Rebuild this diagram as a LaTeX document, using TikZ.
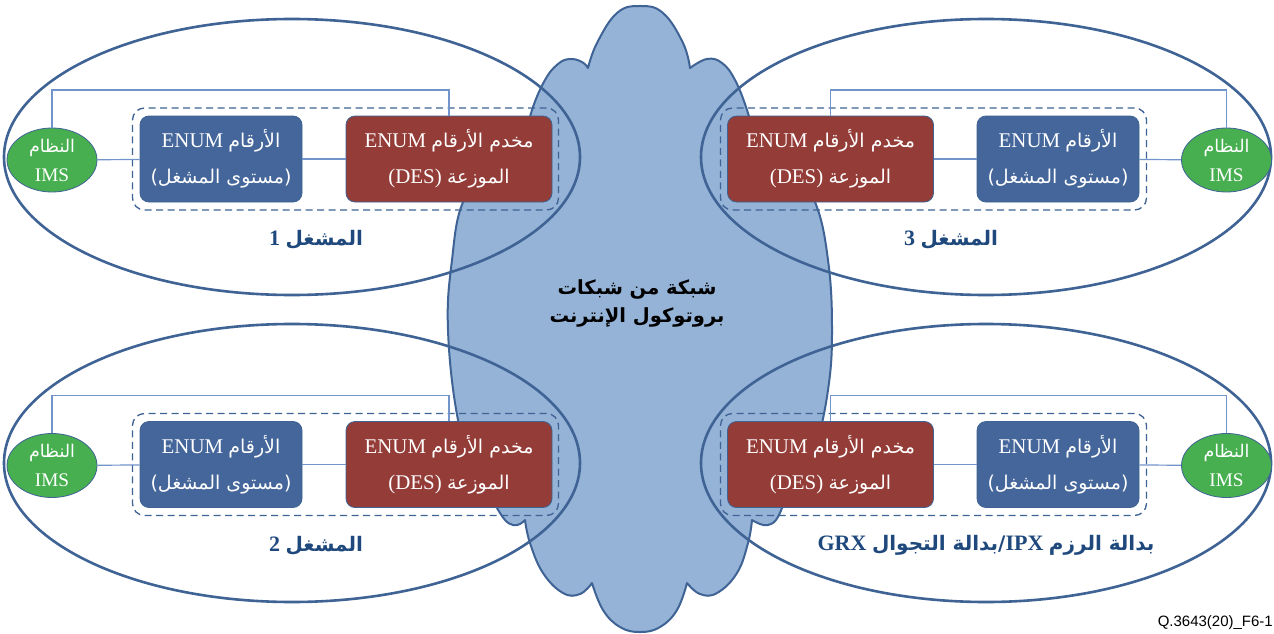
\documentclass[tikz,border=0pt]{standalone}
\usepackage{fontspec}
\setmainfont[Scale=1.1]{Liberation Serif}
\newfontfamily\arabicfont[Script=Arabic]{DejaVu Sans}
\newfontfamily\footfont{Liberation Sans}
\TeXXeTstate=1
\newcommand{\AR}[1]{{\arabicfont #1}}
\usetikzlibrary{shapes.geometric}

\definecolor{edgeblue}{HTML}{3E6394}
\definecolor{cloudfill}{HTML}{95B3D7}
\definecolor{boxblue}{HTML}{44669A}
\definecolor{boxred}{HTML}{943C37}
\definecolor{imsgreen}{HTML}{47AF4F}
\definecolor{linkblue}{HTML}{7195CB}
\definecolor{labelblue}{HTML}{1F497D}

\tikzset{
  boxbase/.style={draw=edgeblue, line width=0.8pt, rounded corners=9pt, text=white,
    align=center, inner sep=0pt, minimum height=86pt, font=\fontsize{19}{36}\selectfont},
  enumbox/.style={boxbase, fill=boxblue, minimum width=162pt},
  desbox/.style={boxbase, fill=boxred, minimum width=206pt},
  imsnode/.style={ellipse, draw=edgeblue, line width=0.8pt, fill=imsgreen, text=white,
    minimum width=90pt, minimum height=64pt, inner sep=0pt, align=center,
    font=\fontsize{17.5}{29}\selectfont},
  group/.style={draw=edgeblue, dash pattern=on 7pt off 4.5pt, line width=1.3pt,
    rounded corners=12pt, minimum width=426pt, minimum height=102pt, inner sep=0pt},
  opdomain/.style={draw=edgeblue, line width=2.6pt},
  link/.style={draw=linkblue, line width=1.2pt},
  oplabel/.style={text=labelblue, inner sep=0pt, font=\bfseries\fontsize{20}{24}\selectfont},
  cloudtext/.style={text=black, align=center, inner sep=0pt, font=\bfseries\fontsize{19.5}{28}\selectfont}
}

\begin{document}
\begin{tikzpicture}[x=1pt, y=-1pt]
\useasboundingbox (0,0) rectangle (1274,634);
\fill[white] (0,0) rectangle (1274,634);

% the IP network cloud in the middle
\filldraw[fill=cloudfill, draw=edgeblue, line width=2pt, line join=round]
  plot[smooth, tension=0.7] coordinates {(588,68) (597,43) (617,13) (640,6) (663,13) (683,43) (690,68)}
  -- plot[smooth, tension=0.7] coordinates {(690,68) (707,59) (722,63) (735,80) (747,110) (755,140)}
  -- plot[smooth, tension=0.7] coordinates {(755,140) (790,165) (815,202) (828,260) (832,330) (828,390) (815,450) (800,485) (782,508)}
  -- plot[smooth, tension=0.7] coordinates {(782,508) (776,520) (768,525) (760,524) (752,520)}
  -- plot[smooth, tension=0.7] coordinates {(752,520) (748,543) (737,573) (717,593) (700,594) (687,583)}
  -- plot[smooth, tension=0.7] coordinates {(687,583) (677,610) (660,627) (640,632) (620,627) (603,610) (592,583)}
  -- plot[smooth, tension=0.7] coordinates {(592,583) (580,594) (563,593) (543,573) (530,543) (525,520)}
  -- plot[smooth, tension=0.7] coordinates {(525,520) (520,524) (513,525) (505,520) (497,508)}
  -- plot[smooth, tension=0.7] coordinates {(497,508) (475,470) (458,420) (448,330) (452,260) (463,202) (490,165) (525,140)}
  -- plot[smooth, tension=0.7] coordinates {(525,140) (532,110) (545,80) (558,64) (570,59) (582,62) (588,68)}
  -- cycle;

% operator domains
\draw[opdomain] (292,157) ellipse [x radius=288, y radius=138];
\draw[opdomain] (986,157) ellipse [x radius=285, y radius=138];
\draw[opdomain] (292,463) ellipse [x radius=288, y radius=139];
\draw[opdomain] (986,463) ellipse [x radius=285, y radius=139];

\node[cloudtext] (net) at (637,303)
  {\beginR\AR{شبكة من شبكات}\endR\\\beginR\AR{بروتوكول الإنترنت}\endR};

% ---------- operator 1 (top left) ----------
\node[group] (grp1) at (345.5,159) {};
\node[imsnode] (ims1) at (52,160) {\beginR\AR{النظام}\endR\\IMS};
\node[enumbox] (enum1) at (221,159) {\beginR\AR{الأرقام} ENUM\endR\\\beginR\AR{(مستوى المشغل)}\endR};
\node[desbox] (des1) at (449,159) {\beginR\AR{مخدم الأرقام} ENUM\endR\\\beginR\AR{الموزعة} (DES)\endR};
\coordinate (top1) at (0,90);
\node[oplabel] (lab1) at (316,240) {\beginR\AR{المشغل} 1\endR};

% ---------- operator 3 (top right) ----------
\node[group] (grp3) at (933.5,159) {};
\node[desbox] (des3) at (830.5,159) {\beginR\AR{مخدم الأرقام} ENUM\endR\\\beginR\AR{الموزعة} (DES)\endR};
\node[enumbox] (enum3) at (1058,159) {\beginR\AR{الأرقام} ENUM\endR\\\beginR\AR{(مستوى المشغل)}\endR};
\node[imsnode] (ims3) at (1226.5,160) {\beginR\AR{النظام}\endR\\IMS};
\coordinate (top3) at (0,90);
\node[oplabel] (lab3) at (951,240) {\beginR\AR{المشغل} 3\endR};

% ---------- operator 2 (bottom left) ----------
\node[group] (grp2) at (345.5,464.5) {};
\node[imsnode] (ims2) at (52,465.5) {\beginR\AR{النظام}\endR\\IMS};
\node[enumbox] (enum2) at (221,464.5) {\beginR\AR{الأرقام} ENUM\endR\\\beginR\AR{(مستوى المشغل)}\endR};
\node[desbox] (des2) at (449,464.5) {\beginR\AR{مخدم الأرقام} ENUM\endR\\\beginR\AR{الموزعة} (DES)\endR};
\coordinate (top2) at (0,395.5);
\node[oplabel] (lab2) at (316,545.5) {\beginR\AR{المشغل} 2\endR};

% ---------- IPX / GRX (bottom right) ----------
\node[group] (grp4) at (933.5,464.5) {};
\node[desbox] (des4) at (830.5,464.5) {\beginR\AR{مخدم الأرقام} ENUM\endR\\\beginR\AR{الموزعة} (DES)\endR};
\node[enumbox] (enum4) at (1058,464.5) {\beginR\AR{الأرقام} ENUM\endR\\\beginR\AR{(مستوى المشغل)}\endR};
\node[imsnode] (ims4) at (1226.5,465.5) {\beginR\AR{النظام}\endR\\IMS};
\coordinate (top4) at (0,395.5);
\node[oplabel] (lab4) at (986,545.5) {\beginR\AR{بدالة الرزم} IPX\AR{/بدالة التجوال} GRX\endR};

% links inside each domain
\draw[link] (ims1) -- (enum1);
\draw[link] (enum1) -- (des1);
\draw[link] (ims1.north) |- (des1.north |- top1) -- (des1.north);
\draw[link] (des3) -- (enum3);
\draw[link] (enum3) -- (ims3);
\draw[link] (ims3.north) |- (des3.north |- top3) -- (des3.north);
\draw[link] (ims2) -- (enum2);
\draw[link] (enum2) -- (des2);
\draw[link] (ims2.north) |- (des2.north |- top2) -- (des2.north);
\draw[link] (des4) -- (enum4);
\draw[link] (enum4) -- (ims4);
\draw[link] (ims4.north) |- (des4.north |- top4) -- (des4.north);

\node[anchor=base east, inner sep=0pt, font=\footfont\fontsize{15}{15}\selectfont] (figno) at (1273,626) {Q.3643(20)\_F6-1};
\end{tikzpicture}
\end{document}
